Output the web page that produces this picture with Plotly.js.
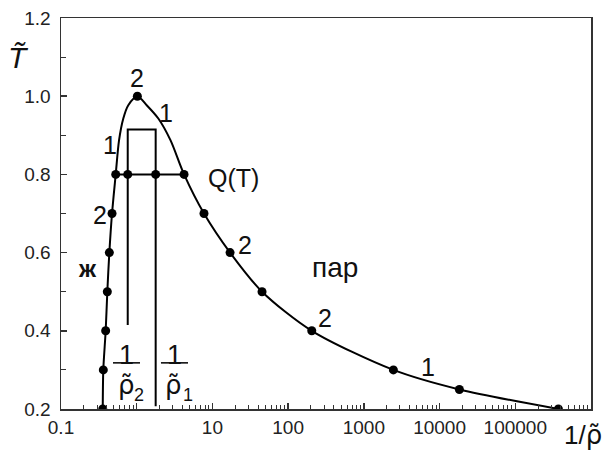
<!DOCTYPE html>
<html>
<head>
<meta charset="utf-8">
<script src="https://cdn.plot.ly/plotly-3.0.1.min.js"></script>
<style>html,body{margin:0;padding:0;background:#fff;}#chart{width:608px;height:453px;}</style>
</head>
<body>
<div id="chart"></div>
<script>
// Coexistence curve: smooth line through points (1/rho, T)
const curveX = [0.356, 0.362, 0.389, 0.409, 0.435, 0.472, 0.528, 0.584, 0.665, 0.774, 1.02, 1.355, 1.93, 2.80, 4.22, 7.74, 17.1, 45.2, 205, 2455, 18270, 371000];
const curveY = [0.20, 0.30, 0.40, 0.50, 0.60, 0.70, 0.80, 0.887, 0.943, 0.977, 1.00, 0.977, 0.943, 0.887, 0.80, 0.70, 0.60, 0.50, 0.40, 0.30, 0.25, 0.20];
// Marked data points
const pointsX = [0.356, 0.362, 0.389, 0.409, 0.435, 0.472, 0.528, 1.02, 4.22, 7.74, 17.1, 45.2, 205, 2455, 18270, 371000, 0.761, 1.78];
const pointsY = [0.20, 0.30, 0.40, 0.50, 0.60, 0.70, 0.80, 1.00, 0.80, 0.70, 0.60, 0.50, 0.40, 0.30, 0.25, 0.20, 0.80, 0.80];
// Tie line at T = 0.8
const tieX = [0.528, 4.22];
const tieY = [0.80, 0.80];
// Bracket for 1/rho2 and 1/rho1
const bracketX = [0.761, 0.761, 1.78, 1.78];
const bracketY = [0.415, 0.915, 0.915, 0.207];
// tick labels
const xTickVals = [0.1, 1, 10, 100, 1000, 10000, 100000, 1000000];
const xTickText = ['0.1', '', '10', '100', '1000', '10000', '100000', ''];
const yTickVals = [0.2, 0.4, 0.6, 0.8, 1.0, 1.2];
const yTickText = ['0.2', '0.4', '0.6', '0.8', '1.0', '1.2'];

const F = 'Liberation Sans, Arial, sans-serif';
const FD = 'DejaVu Sans, sans-serif';
const lineStyle = {color: '#000', width: 2};

const traces = [
  {x: curveX, y: curveY, mode: 'lines', line: Object.assign({shape: 'spline', smoothing: 0.8}, lineStyle), hoverinfo: 'skip'},
  {x: tieX, y: tieY, mode: 'lines', line: lineStyle, hoverinfo: 'skip'},
  {x: bracketX, y: bracketY, mode: 'lines', line: lineStyle, hoverinfo: 'skip'},
  {x: pointsX, y: pointsY, mode: 'markers', marker: {color: '#000', size: 9}, hoverinfo: 'skip'}
];

function ann(x, y, text, size, extra) {
  return Object.assign({x: Math.log10(x), y: y, xref: 'x', yref: 'y', text: text, showarrow: false,
    xanchor: 'center', yanchor: 'middle',
    font: {family: F, size: size || 25, color: '#111'}}, extra || {});
}

const annotations = [
  ann(1.02, 1.047, '2'),
  ann(2.44, 0.957, '1'),
  ann(0.444, 0.875, '1'),
  ann(0.325, 0.696, '2'),
  ann(0.227, 0.56, '<b>ж</b>', 24),
  ann(18.7, 0.791, 'Q(T)', 25),
  ann(27, 0.619, '2'),
  ann(417, 0.563, 'пар', 28),
  ann(307, 0.433, '2'),
  ann(7050, 0.307, '1'),
  // 1 / rho2
  ann(0.74, 0.338, '1', 27),
  ann(0.723, 0.262, 'ρ̃', 26, {font: {family: FD, size: 26, color: '#111'}}),
  ann(1.08, 0.236, '2', 18),
  // 1 / rho1
  ann(3.2, 0.338, '1', 27),
  ann(3.05, 0.262, 'ρ̃', 26, {font: {family: FD, size: 26, color: '#111'}}),
  ann(4.7, 0.236, '1', 18),
  // axis titles
  {x: -0.081, y: 0.90, xref: 'paper', yref: 'paper', xanchor: 'center', yanchor: 'middle',
    text: '<i>T̃</i>', showarrow: false, font: {family: F, size: 30, color: '#111'}},
  {x: 0.985, y: -0.066, xref: 'paper', yref: 'paper', xanchor: 'center', yanchor: 'middle',
    text: '1/<span style="font-family:DejaVu Sans">ρ̃</span>', showarrow: false,
    font: {family: F, size: 26, color: '#111'}}
];

const shapes = [
  {type: 'line', xref: 'x', yref: 'y', x0: 0.486, x1: 1.106, y0: 0.318, y1: 0.318, line: {color: '#000', width: 1.5}},
  {type: 'line', xref: 'x', yref: 'y', x0: 2.09, x1: 4.76, y0: 0.318, y1: 0.318, line: {color: '#000', width: 1.5}}
];

const layout = {
  width: 608, height: 453,
  margin: {l: 61, r: 17, t: 18, b: 44},
  paper_bgcolor: '#fff', plot_bgcolor: '#fff',
  showlegend: false,
  font: {family: F, size: 19, color: '#222'},
  xaxis: {
    type: 'log', range: [-1, 6], tickmode: 'array', tickvals: xTickVals, ticktext: xTickText,
    ticks: 'inside', ticklen: 6, tickwidth: 1.5, tickcolor: '#333',
    showline: true, linecolor: '#333', linewidth: 1.5, mirror: true, showgrid: false, zeroline: false,
    ticklabelstandoff: 1,
    minor: {ticks: 'inside', ticklen: 4, tickcolor: '#333', tickwidth: 1, dtick: 'D1', showgrid: false},
    tickfont: {family: F, size: 19, color: '#222'}
  },
  yaxis: {
    range: [0.2, 1.2], tickmode: 'array', tickvals: yTickVals, ticktext: yTickText,
    ticks: 'inside', ticklen: 6, tickwidth: 1.5, tickcolor: '#333',
    showline: true, linecolor: '#333', linewidth: 1.5, mirror: true, showgrid: false, zeroline: false,
    ticklabelstandoff: 5,
    minor: {ticks: 'inside', ticklen: 5, tickcolor: '#333', tickwidth: 1, dtick: 0.1, showgrid: false},
    tickfont: {family: F, size: 19, color: '#222'}
  },
  annotations: annotations,
  shapes: shapes
};

Plotly.newPlot('chart', traces, layout, {displayModeBar: false, staticPlot: true});
</script>
</body>
</html>
